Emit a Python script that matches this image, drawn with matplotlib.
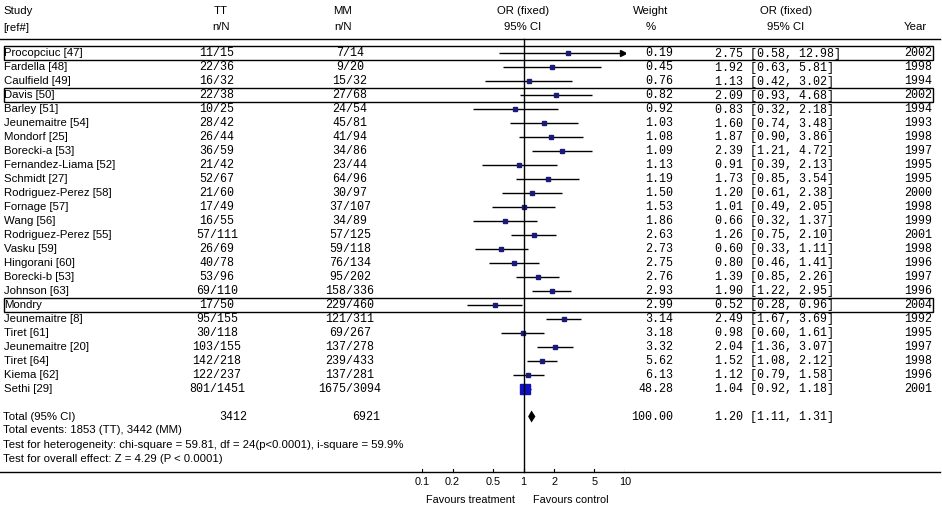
import matplotlib.pyplot as plt
from matplotlib.patches import Rectangle

# DATA
studies = ['Procopciuc [47]', 'Fardella [48]', 'Caulfield [49]', 'Davis [50]', 'Barley [51]',
           'Jeunemaitre [54]', 'Mondorf [25]', 'Borecki-a [53]', 'Fernandez-Liama [52]', 'Schmidt [27]',
           'Rodriguez-Perez [58]', 'Fornage [57]', 'Wang [56]', 'Rodriguez-Perez [55]', 'Vasku [59]',
           'Hingorani [60]', 'Borecki-b [53]', 'Johnson [63]', 'Mondry', 'Jeunemaitre [8]',
           'Tiret [61]', 'Jeunemaitre [20]', 'Tiret [64]', 'Kiema [62]', 'Sethi [29]']
tt_n = [11, 22, 16, 22, 10, 28, 26, 36, 21, 52, 21, 17, 16, 57, 26, 40, 53, 69, 17, 95, 30, 103, 142, 122, 801]
tt_N = [15, 36, 32, 38, 25, 42, 44, 59, 42, 67, 60, 49, 55, 111, 69, 78, 96, 110, 50, 155, 118, 155, 218, 237, 1451]
mm_n = [7, 9, 15, 27, 24, 45, 41, 34, 23, 64, 30, 37, 34, 57, 59, 76, 95, 158, 229, 121, 69, 137, 239, 137, 1675]
mm_N = [14, 20, 32, 68, 54, 81, 94, 86, 44, 96, 97, 107, 89, 125, 118, 134, 202, 336, 460, 311, 267, 278, 433, 281, 3094]
weight = [0.19, 0.45, 0.76, 0.82, 0.92, 1.03, 1.08, 1.09, 1.13, 1.19, 1.50, 1.53, 1.86, 2.63, 2.73,
          2.75, 2.76, 2.93, 2.99, 3.14, 3.18, 3.32, 5.62, 6.13, 48.28]
odds = [2.75, 1.92, 1.13, 2.09, 0.83, 1.60, 1.87, 2.39, 0.91, 1.73, 1.20, 1.01, 0.66, 1.26, 0.60,
        0.80, 1.39, 1.90, 0.52, 2.49, 0.98, 2.04, 1.52, 1.12, 1.04]
ci_lo = [0.58, 0.63, 0.42, 0.93, 0.32, 0.74, 0.90, 1.21, 0.39, 0.85, 0.61, 0.49, 0.32, 0.75, 0.33,
         0.46, 0.85, 1.22, 0.28, 1.67, 0.60, 1.36, 1.08, 0.79, 0.92]
ci_hi = [12.98, 5.81, 3.02, 4.68, 2.18, 3.48, 3.86, 4.72, 2.13, 3.54, 2.38, 2.05, 1.37, 2.10, 1.11,
         1.41, 2.26, 2.95, 0.96, 3.69, 1.61, 3.07, 2.12, 1.58, 1.18]
years = [2002, 1998, 1994, 2002, 1994, 1993, 1998, 1997, 1995, 1995, 2000, 1998, 1999, 2001, 1998,
         1996, 1997, 1996, 2004, 1992, 1995, 1997, 1998, 1996, 2001]
highlighted = ['Procopciuc [47]', 'Davis [50]', 'Mondry']

total_tt, total_mm = 3412, 6921
total_weight = 100.00
total_or, total_lo, total_hi = 1.20, 1.11, 1.31
footer = ['Total events: 1853 (TT), 3442 (MM)',
          'Test for heterogeneity: chi-square = 59.81, df = 24(p<0.0001), i-square = 59.9%',
          'Test for overall effect: Z = 4.29 (P < 0.0001)']
ticks = [0.1, 0.2, 0.5, 1, 2, 5, 10]
tick_labels = ['0.1', '0.2', '0.5', '1', '2', '5', '10']

SANS = 'Liberation Sans'
MONO = 'Liberation Mono'
fs = 8.2
fm = 8.4

fig = plt.figure(figsize=(9.42, 5.10), dpi=100)
fig.patch.set_facecolor('white')

# table axes in pixel units
tab = fig.add_axes([0, 0, 1, 1])
tab.set_xlim(0, 942)
tab.set_ylim(510, 0)
tab.axis('off')

# forest axes, log odds ratio
fa = fig.add_axes([422 / 942, 0, 203 / 942, 1])
fa.set_xscale('log')
fa.set_xlim(0.1, 10)
fa.set_ylim(510, 0)
fa.axis('off')

# header
tab.text(3, 11.5, 'Study', family=SANS, fontsize=fs, va='center')
tab.text(3, 28, '[ref#]', family=SANS, fontsize=fs, va='center')
for x, top, bot in [(221, 'TT', 'n/N'), (343, 'MM', 'n/N'), (523, 'OR (fixed)', '95% CI'),
                    (651, 'Weight', '%'), (786, 'OR (fixed)', '95% CI')]:
    tab.text(x, 11.5, top, family=SANS, fontsize=fs, ha='center', va='center')
    tab.text(x, 26.5, bot, family=SANS, fontsize=fs, ha='center', va='center')
tab.text(927, 26.5, 'Year', family=SANS, fontsize=fs, ha='right', va='center')

tab.plot([0, 940], [40, 40], color='black', lw=1)
tab.plot([0, 940], [473, 473], color='black', lw=1)

y0, step = 53.5, 14.0
for i, name in enumerate(studies):
    y = y0 + step * i
    tab.text(4, y, name, family=SANS, fontsize=fs, va='center')
    tab.text(217, y, f'{tt_n[i]}/{tt_N[i]}', family=MONO, fontsize=fm, ha='center', va='center')
    tab.text(350, y, f'{mm_n[i]}/{mm_N[i]}', family=MONO, fontsize=fm, ha='center', va='center')
    tab.text(673, y, f'{weight[i]:.2f}', family=MONO, fontsize=fm, ha='right', va='center')
    tab.text(715, y, f'{odds[i]:.2f} [{ci_lo[i]:.2f}, {ci_hi[i]:.2f}]', family=MONO, fontsize=fm,
             va='center')
    tab.text(932, y, str(years[i]), family=MONO, fontsize=fm, ha='right', va='center')
    if name in highlighted:
        tab.add_patch(Rectangle((4, y - 7), 929, 14, fill=False, lw=1, ec='black'))

    # whisker and square
    hi = min(ci_hi[i], 10)
    fa.plot([ci_lo[i], hi], [y, y], color='black', lw=1, solid_capstyle='butt')
    if ci_hi[i] > 10:
        fa.plot(9.6, y, marker='>', ms=4.5, color='black', mec='black')
    side = max(5, 1.3 * weight[i] ** 0.5) * 0.72
    col = '#1010c0' if weight[i] > 20 else '#1a1a78'
    fa.plot(odds[i], y, marker='s', ms=side, color=col, mec=col, ls='none')

# total row
yt = y0 + step * 26
tab.text(3, yt, 'Total (95% CI)', family=SANS, fontsize=fs, va='center')
tab.text(247, yt, str(total_tt), family=MONO, fontsize=fm, ha='right', va='center')
tab.text(380, yt, str(total_mm), family=MONO, fontsize=fm, ha='right', va='center')
tab.text(673, yt, f'{total_weight:.2f}', family=MONO, fontsize=fm, ha='right', va='center')
tab.text(715, yt, f'{total_or:.2f} [{total_lo:.2f}, {total_hi:.2f}]', family=MONO, fontsize=fm,
         va='center')
fa.fill([total_lo, total_or, total_hi, total_or], [yt, yt - 6, yt, yt + 6], color='black', lw=0)

for k, line in enumerate(footer):
    tab.text(3, 430.5 + 14.5 * k, line, family=SANS, fontsize=fs, va='center')

# line of no effect
fa.plot([1, 1], [40, 473], color='black', lw=1)

# bottom scale
for t, lab in zip(ticks, tick_labels):
    fa.plot([t, t], [470, 473], color='black', lw=0.8)
    fa.text(t, 482, lab, family=SANS, fontsize=7.8, ha='center', va='center')
tab.text(515, 500, 'Favours treatment', family=SANS, fontsize=7.8, ha='right', va='center')
tab.text(533, 500, 'Favours control', family=SANS, fontsize=7.8, ha='left', va='center')

fig.savefig('out.png', dpi=100)
